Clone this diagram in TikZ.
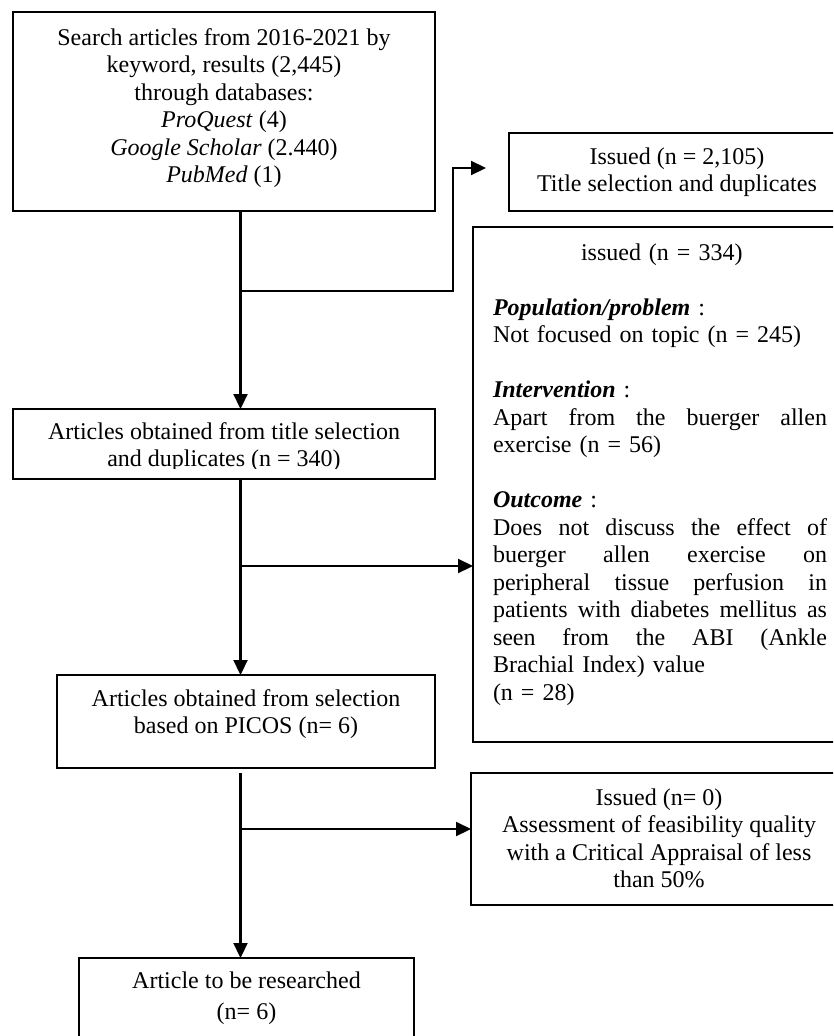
\documentclass[tikz,border=0pt]{standalone}
\usepackage{fontspec}
\setmainfont{Liberation Serif}
\usetikzlibrary{arrows.meta}
\tikzset{
  box/.style={draw=black, line width=1.2pt, rectangle, inner sep=0pt, outer sep=0pt, anchor=north west},
  txt/.style={inner sep=0pt, outer sep=0pt, align=center, anchor=north, font=\fontsize{24}{27.5}\selectfont},
  txtj/.style={inner sep=0pt, outer sep=0pt, align=left, text width=334pt, anchor=north west, font=\fontsize{24}{27.5}\selectfont},
  conn/.style={draw=black, line width=2.2pt},
  arr/.style={-{Triangle[length=15pt,width=14pt]}}
}
\newcommand{\jline}[1]{\leavevmode\hbox to 334pt{#1}}
\begin{document}
\begin{tikzpicture}[x=1pt,y=-1pt]
\useasboundingbox (0,0) rectangle (833,1036);
\fill[white] (0,0) rectangle (833,1036);
\clip (0,0) rectangle (833,1036);

% boxes
\node[box, minimum width=422pt, minimum height=199pt] (b1) at (13,12) {};
\node[box, minimum width=337pt, minimum height=78pt] (b2) at (509,133) {};
\node[box, minimum width=373pt, minimum height=515pt] (b3) at (473,227) {};
\node[box, minimum width=422pt, minimum height=70pt] (b4) at (13,409) {};
\node[box, minimum width=378pt, minimum height=93pt] (b5) at (57,675) {};
\node[box, minimum width=375pt, minimum height=132pt] (b6) at (471,773) {};
\node[box, minimum width=335pt, minimum height=100pt] (b7) at (79,958) {};

% texts
\node[txt] (t1) at (224,25.75) {\strut Search articles from 2016-2021 by\\ keyword, results (2,445)\\ through databases:\\ \textit{ProQuest} (4)\\ \textit{Google Scholar} (2.440)\\ \textit{PubMed} (1)};
\node[txt] (t2) at (677,144.75) {\strut Issued (n = 2,105)\\ Title selection and duplicates};
\node[txtj] (t3) at (493,240.75) {\strut\hspace*{88pt}issued (n = 334)\\[27.5pt]
\textbf{\textit{Population/problem}} :\\
Not focused on topic (n = 245)\\[27.5pt]
\textbf{\textit{Intervention}} :\\
\jline{Apart\hfill from\hfill the\hfill buerger\hfill allen}\\
exercise (n = 56)\\[27.5pt]
\textbf{\textit{Outcome}} :\\
\jline{Does\hfill not\hfill discuss\hfill the\hfill effect\hfill of}\\
\jline{buerger\hfill allen\hfill exercise\hfill on}\\
\jline{peripheral\hfill tissue\hfill perfusion\hfill in}\\
\jline{patients\hfill with\hfill diabetes\hfill mellitus\hfill as}\\
\jline{seen\hfill from\hfill the\hfill ABI\hfill (Ankle}\\
Brachial Index) value\\
(n = 28)};
\begin{scope}
\clip (13,409) rectangle (435,468.5);
\node[txt] (t4) at (224,419.75) {\strut Articles obtained from title selection\\ and duplicates (n = 340)};
\end{scope}
\node[txt] (t5) at (246,686.75) {\strut Articles obtained from selection\\ based on PICOS (n= 6)};
\node[txt] (t6) at (659,785.75) {\strut Issued (n= 0)\\ Assessment of feasibility quality\\ with a Critical Appraisal of less\\ than 50\%};
\node[txt] (t7) at (246.5,968.75) {\strut Article to be researched\\[3.5pt] (n= 6)};

% connectors
\coordinate (m1) at (240.5,291);
\coordinate (k1) at (453,291);
\coordinate (e1) at (486,168);
\draw[conn,arr] (b1.south -| m1) -- (b4.north -| m1);
\draw[conn,arr] (m1) -- (k1) |- (e1);

\coordinate (m2) at (240.5,566);
\draw[conn,arr] (b4.south -| m2) -- (b5.north -| m2);
\draw[conn,arr] (m2) -- (m2 -| b3.west);

\coordinate (s3) at (240.5,773);
\coordinate (m3) at (240.5,829);
\draw[conn,arr] (s3) -- (b7.north -| s3);
\draw[conn,arr] (m3) -- (m3 -| b6.west);
\end{tikzpicture}
\end{document}
